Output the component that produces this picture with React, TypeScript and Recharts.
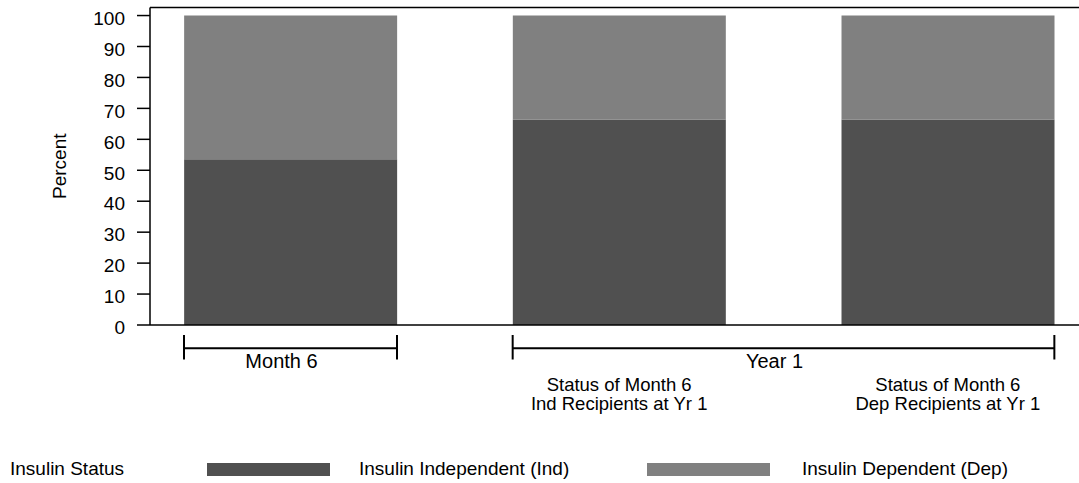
import React from 'react'
import { BarChart, Bar, XAxis, YAxis, ReferenceLine, Legend } from 'recharts'

// bar positions along the x axis and what sits under each bar
const positions = [0, 1, 2]
const subLabels = [
    [],
    ['Status of Month 6', 'Ind Recipients at Yr 1'],
    ['Status of Month 6', 'Dep Recipients at Yr 1'],
]

// percent of recipients per bar
const independent = [53.6, 66.4, 66.4]
const dependent = [46.4, 33.6, 33.6]

const yTicks = [0, 10, 20, 30, 40, 50, 60, 70, 80, 90, 100]

// brackets under the axis: which bars each group spans
const groupLabels = ['Month 6', 'Year 1']
const groupFirst = [0, 1]
const groupLast = [0, 2]

const legendTitle = 'Insulin Status'
const seriesNames = ['Insulin Independent (Ind)', 'Insulin Dependent (Dep)']

// layout
const W = 1079
const H = 483
const PLOT_LEFT = 150
const PLOT_TOP = 7.5
const PLOT_BOTTOM = 325
const LEGEND_H = 30
const X_MIN = -0.4274
const X_MAX = 2.399
const Y_MAX = 102.6
const BAR_SIZE = 213
const DARK = '#505050'
const LIGHT = '#808080'
const FONT = '"Liberation Sans", Arial, sans-serif'

const PX_PER_X = (W - PLOT_LEFT) / (X_MAX - X_MIN)
const BAR_HALF = BAR_SIZE / 2 / PX_PER_X
const PX_PER_Y = (PLOT_BOTTOM - PLOT_TOP) / Y_MAX
const pxToY = (px: number) => (PLOT_BOTTOM - px) / PX_PER_Y
const BRACKET_MID = pxToY(348.3)
const BRACKET_TOP = pxToY(335)
const BRACKET_BOT = pxToY(359.5)

const legendSwatchX = [207, 647]
const legendTextX = [359, 802]

const data = positions.map((pos, i) => ({
    pos,
    independent: independent[i],
    dependent: dependent[i],
}))

function YTick({ x, y, payload }: any) {
    return (
        <text x={x} y={y + 2.5} dy="0.355em" textAnchor="end" fontSize={19} fill="#000">
            {payload.value}
        </text>
    )
}

function SubLabelTick({ x, y, payload }: any) {
    const lines: string[] = subLabels[payload.value] ?? []
    return (
        <text textAnchor="middle" fontSize={18.5} fill="#000">
            {lines.map((line, i) => (
                <tspan key={i} x={x} y={y + 65.5 + i * 19}>
                    {line}
                </tspan>
            ))}
        </text>
    )
}

function LegendBox({ payload }: any) {
    // keep the series order of the reference legend
    const items = [...(payload ?? [])].sort(
        (a: any, b: any) => seriesNames.indexOf(a.value) - seriesNames.indexOf(b.value)
    )
    return (
        <div style={{ position: 'relative', width: W, height: LEGEND_H, fontSize: 19, color: '#000' }}>
            <span style={{ position: 'absolute', left: 10, top: 1, lineHeight: `${LEGEND_H}px` }}>{legendTitle}</span>
            {items.map((item: any, i: number) => (
                <React.Fragment key={i}>
                    <span
                        style={{
                            position: 'absolute',
                            left: legendSwatchX[i],
                            top: 10,
                            width: 123,
                            height: 13,
                            background: item.color,
                        }}
                    />
                    <span style={{ position: 'absolute', left: legendTextX[i], top: 1, lineHeight: `${LEGEND_H}px`, whiteSpace: 'nowrap' }}>
                        {item.value}
                    </span>
                </React.Fragment>
            ))}
        </div>
    )
}

export default function App() {
    const brackets = groupLabels.map((label, g) => {
        const x1 = groupFirst[g] - BAR_HALF
        const x2 = groupLast[g] + BAR_HALF
        return [
            <ReferenceLine
                key={`h${g}`}
                segment={[{ x: x1, y: BRACKET_MID }, { x: x2, y: BRACKET_MID }]}
                stroke="#000"
                strokeWidth={2}
                ifOverflow="visible"
                label={{ value: label, position: 'bottom', offset: 5, fontSize: 20, fill: '#000', dx: -9 }}
            />,
            <ReferenceLine
                key={`l${g}`}
                segment={[{ x: x1, y: BRACKET_TOP }, { x: x1, y: BRACKET_BOT }]}
                stroke="#000"
                strokeWidth={2}
                ifOverflow="visible"
            />,
            <ReferenceLine
                key={`r${g}`}
                segment={[{ x: x2, y: BRACKET_TOP }, { x: x2, y: BRACKET_BOT }]}
                stroke="#000"
                strokeWidth={2}
                ifOverflow="visible"
            />,
        ]
    })

    return (
        <div style={{ fontFamily: FONT, width: W, height: H }}>
            <style>{'body{margin:0}'}</style>
            <BarChart
                width={W}
                height={H}
                data={data}
                margin={{ top: PLOT_TOP, right: 0, bottom: 0, left: 0 }}
            >
                <XAxis
                    dataKey="pos"
                    type="number"
                    domain={[X_MIN, X_MAX]}
                    allowDataOverflow
                    ticks={positions}
                    interval={0}
                    height={H - PLOT_BOTTOM - LEGEND_H}
                    tickSize={0}
                    tickMargin={0}
                    tickLine={false}
                    axisLine={{ stroke: '#000', strokeWidth: 1.5 }}
                    tick={<SubLabelTick />}
                />
                <YAxis
                    type="number"
                    domain={[0, Y_MAX]}
                    allowDataOverflow
                    ticks={yTicks}
                    interval={0}
                    width={PLOT_LEFT}
                    tickSize={13}
                    tickMargin={12}
                    tickLine={{ stroke: '#000', strokeWidth: 1.5 }}
                    axisLine={{ stroke: '#000', strokeWidth: 1.5 }}
                    tick={<YTick />}
                    label={{ value: 'Percent', angle: -90, position: 'center', dx: -16, fontSize: 19, fill: '#000' }}
                />
                <ReferenceLine y={Y_MAX} stroke="#000" strokeWidth={1.5} />
                <Bar dataKey="independent" name={seriesNames[0]} stackId="a" fill={DARK} barSize={BAR_SIZE} isAnimationActive={false} />
                <Bar dataKey="dependent" name={seriesNames[1]} stackId="a" fill={LIGHT} barSize={BAR_SIZE} isAnimationActive={false} />
                {brackets}
                <Legend verticalAlign="bottom" height={LEGEND_H} content={<LegendBox />} />
            </BarChart>
        </div>
    )
}
